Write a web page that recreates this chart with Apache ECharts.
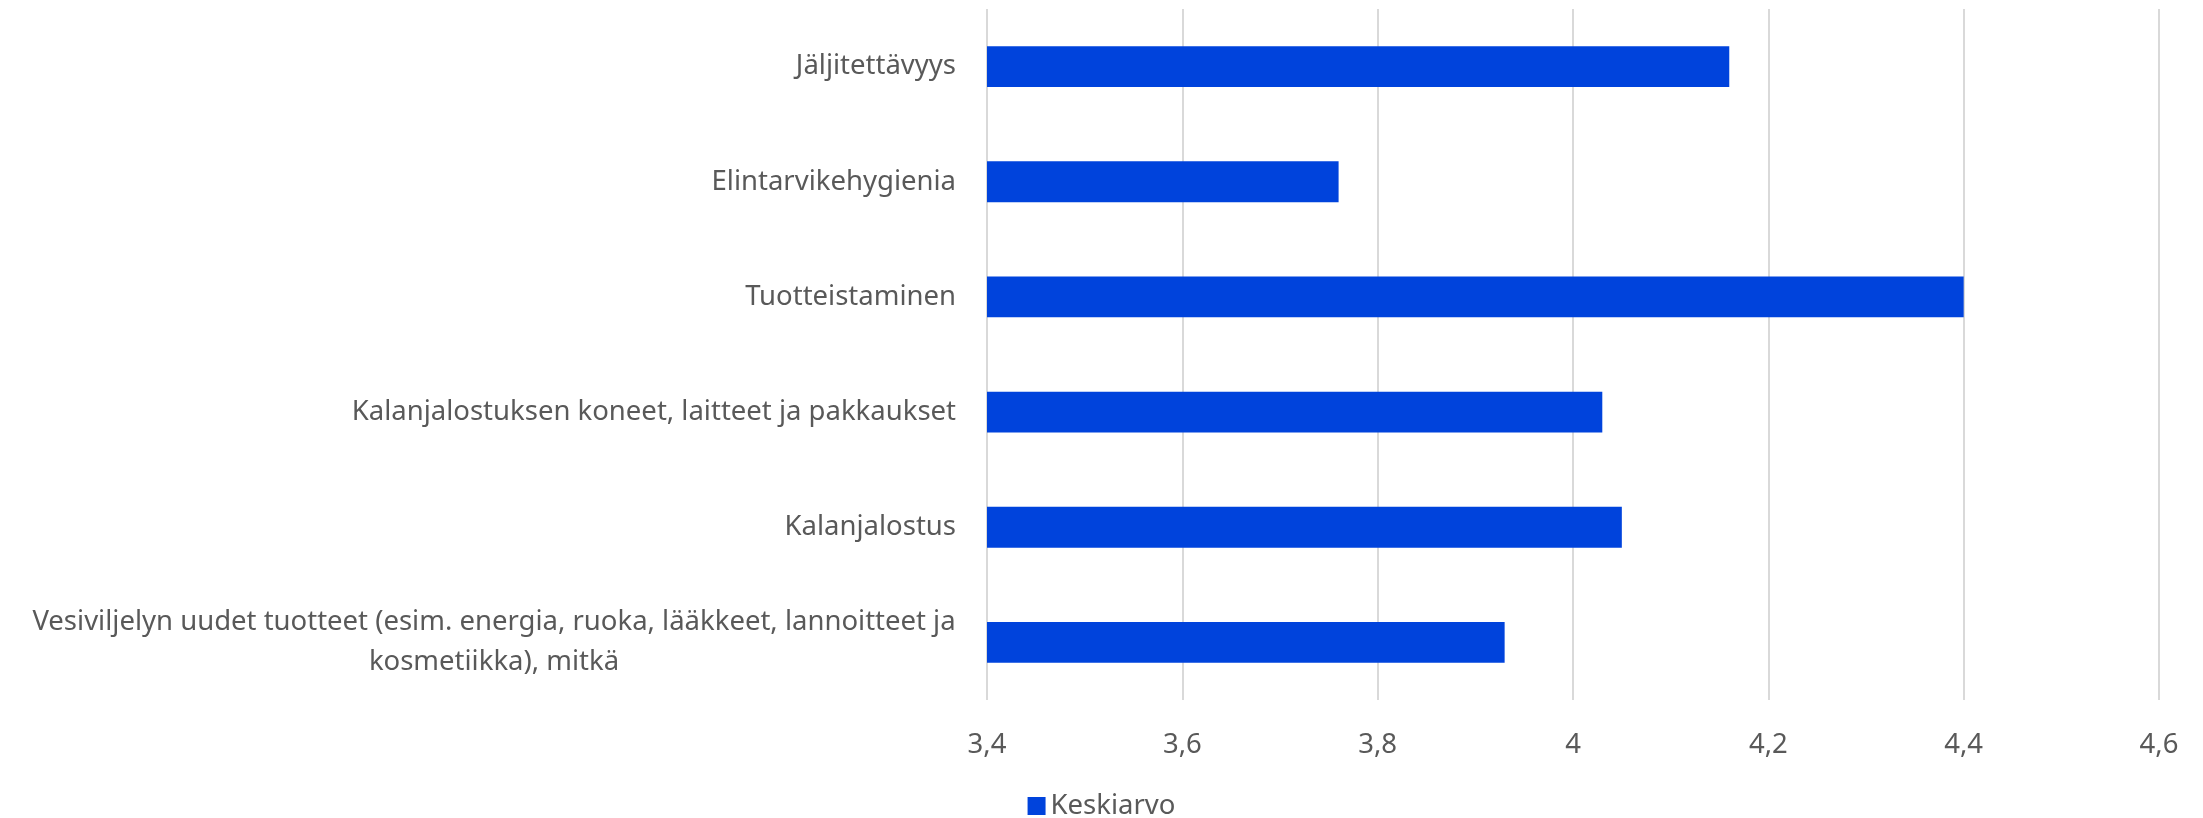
<!DOCTYPE html>
<html>
<head>
<meta charset="utf-8">
<script src="https://cdn.jsdelivr.net/npm/echarts@6/dist/echarts.min.js"></script>
<style>
  html, body { margin: 0; padding: 0; background: #fff; }
  #chart { width: 2203px; height: 818px; }
</style>
</head>
<body>
<div id="chart"></div>
<script>
const categories = [
  'Jäljitettävyys',
  'Elintarvikehygienia',
  'Tuotteistaminen',
  'Kalanjalostuksen koneet, laitteet ja pakkaukset',
  'Kalanjalostus',
  'Vesiviljelyn uudet tuotteet (esim. energia, ruoka, lääkkeet, lannoitteet ja\nkosmetiikka), mitkä'
];
const keskiarvo = [4.16, 3.76, 4.4, 4.03, 4.05, 3.93];
const seriesName = 'Keskiarvo';
const xMin = 3.4, xMax = 4.6, xStep = 0.2;

const textColor = '#595959';
const fontFamily = '"Noto Sans", sans-serif';
const fontSize = 27.5;

let chart = echarts.init(document.getElementById('chart'));
let options = {
  animation: false,
  textStyle: {fontFamily: fontFamily},
  grid: {left: 987, right: 44, top: 9, bottom: 118, containLabel: false},
  legend: {
    data: [seriesName],
    top: 787,
    left: 'center',
    icon: 'rect',
    itemWidth: 18,
    itemHeight: 18,
    itemGap: 8,
    textStyle: {color: textColor, fontSize: fontSize, fontFamily: fontFamily}
  },
  xAxis: {
    type: 'value',
    min: xMin,
    max: xMax,
    interval: xStep,
    axisLine: {show: false},
    axisTick: {show: false},
    splitLine: {lineStyle: {color: '#d9d9d9', width: 2}},
    axisLabel: {
      color: textColor,
      fontSize: fontSize,
      margin: 31,
      formatter: v => String(+v.toFixed(1)).replace('.', ',')
    }
  },
  yAxis: {
    type: 'category',
    inverse: true,
    data: categories,
    axisLine: {show: false},
    axisTick: {show: false},
    axisLabel: {
      color: textColor,
      fontSize: fontSize,
      margin: 31,
      lineHeight: 40,
      formatter: v => {
        if (v.indexOf('\n') < 0) return v;
        return v.split('\n').map(s => '{w|' + s + '}').join('\n');
      },
      rich: {
        w: {width: 924, align: 'center', color: textColor, fontSize: fontSize, lineHeight: 40}
      }
    }
  },
  series: [{
    name: seriesName,
    type: 'bar',
    data: keskiarvo,
    barWidth: '35.5%',
    itemStyle: {color: '#0043DC'}
  }]
};
chart.setOption(options);
</script>
</body>
</html>
